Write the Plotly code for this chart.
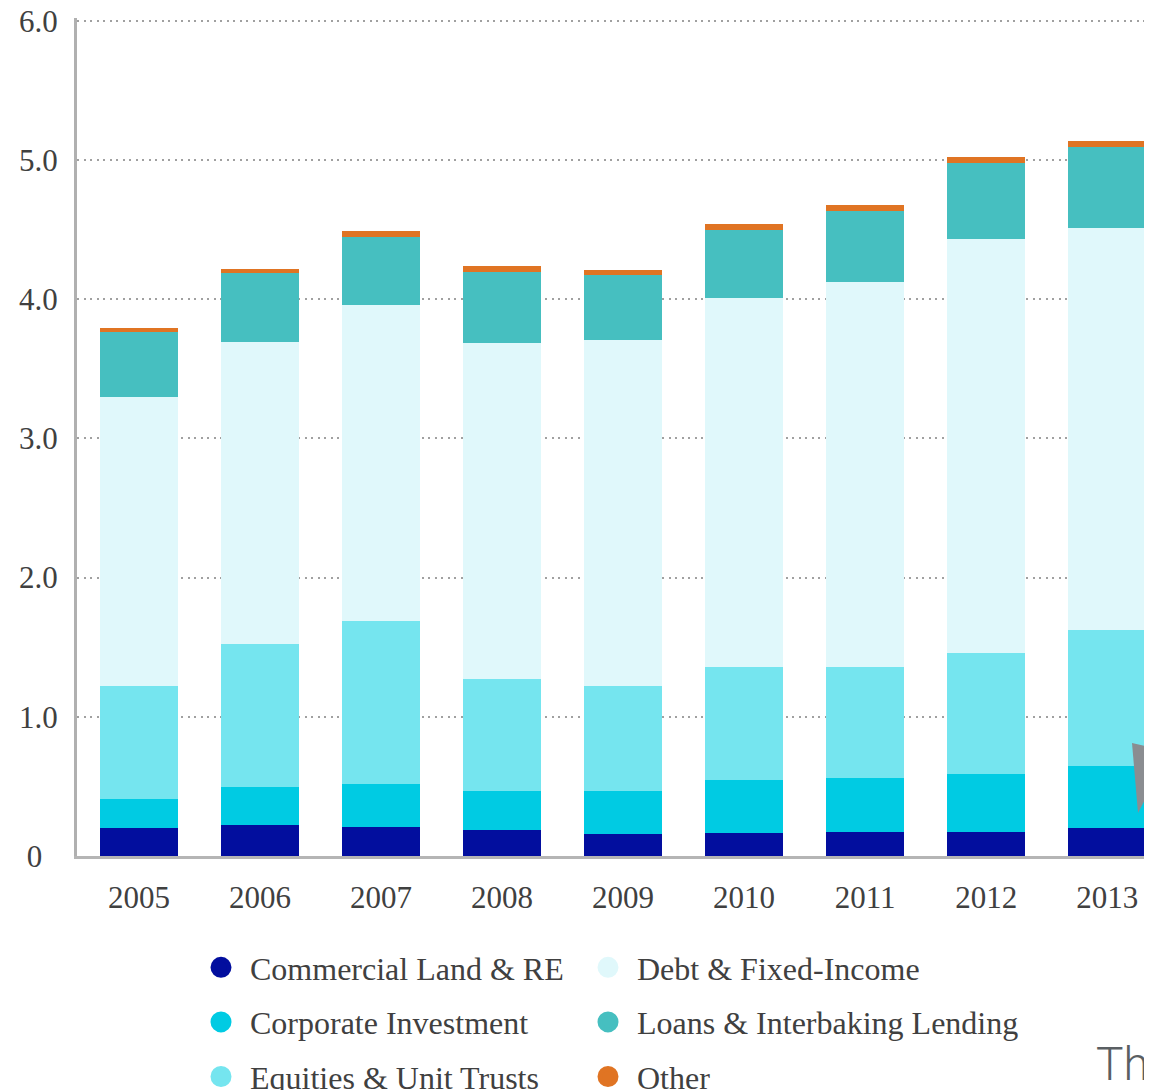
import plotly.graph_objects as go

years = ["2005", "2006", "2007", "2008", "2009", "2010", "2011", "2012", "2013"]

commercial_land_re = [0.20, 0.225, 0.21, 0.185, 0.155, 0.165, 0.17, 0.17, 0.20]
corporate_investment = [0.21, 0.27, 0.305, 0.285, 0.31, 0.38, 0.39, 0.42, 0.45]
equities_unit_trusts = [0.81, 1.03, 1.17, 0.80, 0.755, 0.815, 0.795, 0.87, 0.975]
debt_fixed_income = [2.075, 2.17, 2.27, 2.415, 2.49, 2.65, 2.765, 2.97, 2.89]
loans_interbank = [0.47, 0.49, 0.49, 0.51, 0.465, 0.485, 0.515, 0.545, 0.58]
other = [0.03, 0.035, 0.045, 0.045, 0.035, 0.045, 0.04, 0.05, 0.045]

y_tick_vals = [0, 1, 2, 3, 4, 5, 6]
y_tick_text = ["0\u00a0\u00a0", "1.0", "2.0", "3.0", "4.0", "5.0", "6.0"]

series = [
    ("Commercial Land & RE", commercial_land_re, "#020e9e", "legend"),
    ("Corporate Investment", corporate_investment, "#00cbe3", "legend"),
    ("Equities & Unit Trusts", equities_unit_trusts, "#75e5ef", "legend"),
    ("Debt & Fixed-Income", debt_fixed_income, "#e0f8fb", "legend2"),
    ("Loans & Interbaking Lending", loans_interbank, "#46bfc0", "legend2"),
    ("Other", other, "#e07423", "legend2"),
]

FONT = "Liberation Serif"
TXT = "#404040"
FS = 31
LFS = 32

fig = go.Figure()
for name, vals, color, _ in series:
    fig.add_trace(go.Bar(
        x=years, y=vals, name=name, marker=dict(color=color, line=dict(width=0)),
        showlegend=False, hoverinfo="skip",
    ))

for i, (name, vals, color, leg) in enumerate(series):
    fig.add_trace(go.Scatter(
        x=[None], y=[None], mode="markers", name=name, legend=leg,
        legendgroup=f"g{i}",
        marker=dict(symbol="circle", size=16, color=color, line=dict(color=color, width=5)),
    ))

# page offset of the figure (body margin)
OFF = 8
W, H = 1152 - OFF, 1090 - OFF
# plot area in page pixels: x 77..1152, y 18..856
L = 77 - OFF
T = 18 - OFF
R = 0
B = H - (856 - OFF)
pw, ph = W - L - R, H - T - B

def px(x):
    return (x - OFF - L) / pw

def py(y):
    return (856 - y) / ph

legend_common = dict(
    orientation="v", traceorder="grouped", tracegroupgap=10,
    font=dict(family=FONT, size=LFS, color=TXT),
    bgcolor="rgba(0,0,0,0)", xanchor="left", yanchor="top",
    itemsizing="trace", itemwidth=48,
)

fig.update_layout(
    width=W, height=H,
    margin=dict(l=L, r=R, t=T, b=B, pad=0, autoexpand=False),
    paper_bgcolor="white", plot_bgcolor="white",
    barmode="stack", bargap=0.355,
    font=dict(family=FONT, size=FS, color=TXT),
    legend=dict(x=px(192), y=py(940), **legend_common),
    legend2=dict(x=px(579), y=py(940), **legend_common),
    xaxis=dict(
        type="category", range=[-0.512, 8.37], automargin=False,
        showline=True, linecolor="#b5b5b5", linewidth=3,
        showgrid=False, zeroline=False, ticks="",
        tickfont=dict(family=FONT, size=FS, color=TXT),
        ticklabelstandoff=12,
    ),
    yaxis=dict(
        range=[0, 6.02], tickvals=y_tick_vals, ticktext=y_tick_text, automargin=False,
        showline=True, linecolor="#b0b0b0", linewidth=3,
        showgrid=True, gridcolor="#a0a0a0", gridwidth=2, griddash="2px,4.5px",
        zeroline=False, ticks="", ticklabeloverflow="allow",
        tickfont=dict(family=FONT, size=FS, color=TXT),
        ticklabelstandoff=10,
    ),
    shapes=[
        dict(type="path", xref="paper", yref="paper",
             path=f"M {px(1132)},{py(743)} L {px(1170)},{py(752)} L {px(1138)},{py(813)} Z",
             fillcolor="#8a8d91", line=dict(width=0), layer="above"),
    ],
    annotations=[
        dict(text="Th", xref="paper", yref="paper", x=px(1151), y=py(1064),
             xanchor="right", yanchor="middle", showarrow=False,
             font=dict(family="Roboto", size=46, color="#5a5f63", weight=300)),
    ],
)

fig.write_html("out.html")
